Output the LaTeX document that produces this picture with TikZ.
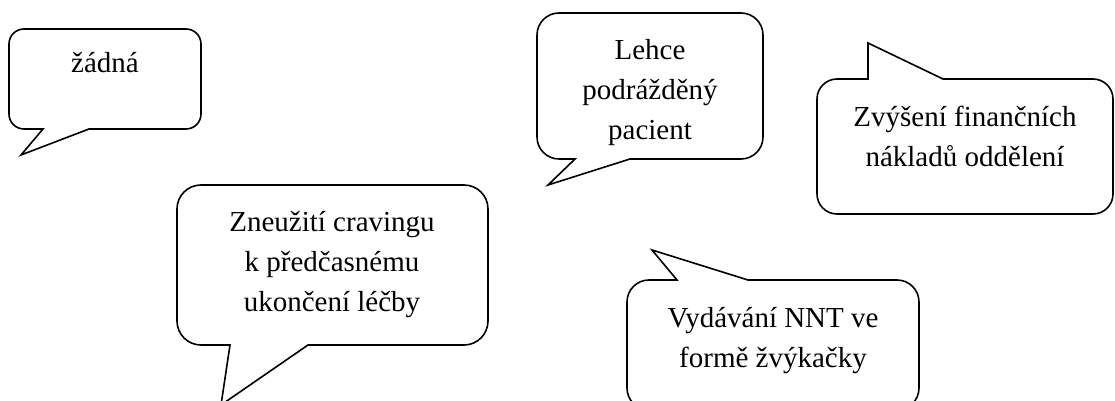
\documentclass[tikz,border=0pt]{standalone}
\usepackage{fontspec}
\setmainfont{Liberation Serif}
\usepackage{tikz}

\begin{document}
\begin{tikzpicture}[x=1pt,y=1pt]
\tikzstyle{every node}+=[inner sep=0pt]
\tikzstyle{bubble}=[draw=black, line width=1.6pt, line join=miter, fill=white]
\tikzstyle{bubbletext}=[align=center, anchor=base, font=\fontsize{29}{40}\selectfont]
\useasboundingbox (0,0) rectangle (1115,401);
\draw [bubble] (24,272) -- (43,272) -- (21,246) -- (89,272) -- (186,272) arc [start angle=-90, end angle=0, radius=15] -- (201,357) arc [start angle=0, end angle=90, radius=15] -- (24,372) arc [start angle=90, end angle=180, radius=15] -- (9,287) arc [start angle=180, end angle=270, radius=15] -- cycle;
\node [bubbletext] (none) at (105,328) {žádná};
\draw [bubble] (559,242) -- (575,242) -- (548,216) -- (630,242) -- (741,242) arc [start angle=-90, end angle=0, radius=22] -- (763,366) arc [start angle=0, end angle=90, radius=22] -- (559,388) arc [start angle=90, end angle=180, radius=22] -- (537,264) arc [start angle=180, end angle=270, radius=22] -- cycle;
\node [bubbletext] (patient) at (650,261) {Lehce\\podrážděný\\pacient};
\draw [bubble] (837,187) -- (1093,187) arc [start angle=-90, end angle=0, radius=20] -- (1113,302) arc [start angle=0, end angle=90, radius=20] -- (943,322) -- (868,358) -- (868,322) -- (837,322) arc [start angle=90, end angle=180, radius=20] -- (817,207) arc [start angle=180, end angle=270, radius=20] -- cycle;
\node [bubbletext] (costs) at (965,234) {Zvýšení finančních\\nákladů oddělení};
\draw [bubble] (201,56) -- (230,56) -- (221,-4) -- (308,56) -- (464,56) arc [start angle=-90, end angle=0, radius=24] -- (488,192) arc [start angle=0, end angle=90, radius=24] -- (201,216) arc [start angle=90, end angle=180, radius=24] -- (177,80) arc [start angle=180, end angle=270, radius=24] -- cycle;
\node [bubbletext] (craving) at (332,89) {Zneužití cravingu\\k předčasnému\\ukončení léčby};
\draw [bubble] (649,-9) -- (897,-9) arc [start angle=-90, end angle=0, radius=22] -- (919,99) arc [start angle=0, end angle=90, radius=22] -- (748,121) -- (652,151) -- (677,121) -- (649,121) arc [start angle=90, end angle=180, radius=22] -- (627,13) arc [start angle=180, end angle=270, radius=22] -- cycle;
\node [bubbletext] (gum) at (773,33) {Vydávání NNT ve\\formě žvýkačky};
\end{tikzpicture}
\end{document}
